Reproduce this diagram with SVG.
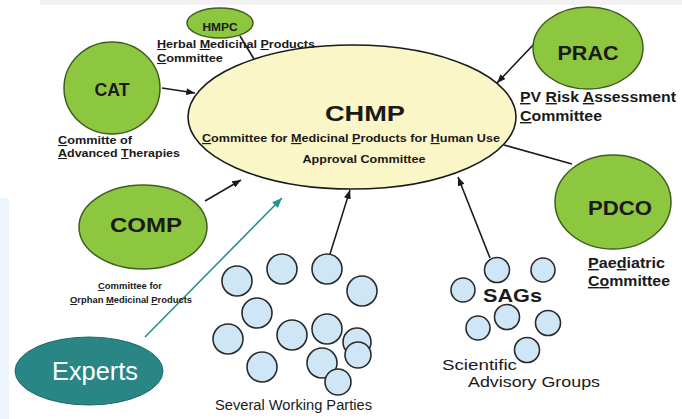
<svg xmlns="http://www.w3.org/2000/svg" width="682" height="419" viewBox="0 0 682 419">
<defs>
<style>
text{font-family:"Liberation Sans",Arial,sans-serif;fill:#1a1a1a}
.b{font-weight:bold}
.u{text-decoration:underline}
.green{fill:#8dc63f;stroke:#3f5e22;stroke-width:1.5}
.wp{fill:#cfe6f6;stroke:#2a2a2a;stroke-width:1.6}
.conn{stroke:#1a1a1a;stroke-width:1.6;fill:none}
</style>
<marker id="ah" viewBox="0 0 10 8" refX="10" refY="4" markerWidth="9" markerHeight="7" markerUnits="userSpaceOnUse" orient="auto">
<path d="M0,0 L10,4 L0,8 z" fill="#1a1a1a"/>
</marker>
<marker id="aht" viewBox="0 0 10 8" refX="10" refY="4" markerWidth="10" markerHeight="8" markerUnits="userSpaceOnUse" orient="auto">
<path d="M0,0 L10,4 L0,8 z" fill="#2a8f8f"/>
</marker>
</defs>
<rect width="682" height="419" fill="#ffffff"/>
<rect x="40" y="0" width="642" height="5" fill="#f2f2f2"/>
<rect x="0" y="198" width="9" height="221" fill="#eef4fb"/>

<g id="connectors">
<line class="conn" x1="240" y1="36" x2="257" y2="64"/>
<line class="conn" x1="162" y1="88" x2="195" y2="93" marker-end="url(#ah)"/>
<line class="conn" x1="205" y1="201" x2="241" y2="180" marker-end="url(#ah)"/>
<line class="conn" x1="534" y1="44" x2="497" y2="83" marker-end="url(#ah)"/>
<line class="conn" x1="504" y1="145" x2="572" y2="164"/>
<line class="conn" x1="330" y1="254" x2="350" y2="190" marker-end="url(#ah)"/>
<line class="conn" x1="490" y1="258" x2="458" y2="177" marker-end="url(#ah)"/>
<line x1="145" y1="337" x2="282" y2="198" stroke="#2a8f8f" stroke-width="1.6" marker-end="url(#aht)"/>
</g>

<g id="chmp">
<ellipse cx="352" cy="117" rx="164" ry="72" fill="#fbf6c8" stroke="#1a1a1a" stroke-width="1.6"/>
<text x="365" y="121" class="b" font-size="22" text-anchor="middle" textLength="80" lengthAdjust="spacingAndGlyphs">CHMP</text>
<text x="202" y="142" class="b" font-size="11.5" textLength="298" lengthAdjust="spacingAndGlyphs"><tspan class="u">C</tspan>ommittee for <tspan class="u">M</tspan>edicinal <tspan class="u">P</tspan>roducts for <tspan class="u">H</tspan>uman Use</text>
<text x="364" y="163" class="b" font-size="11.5" text-anchor="middle" textLength="123" lengthAdjust="spacingAndGlyphs">Approval Committee</text>
</g>

<g id="hmpc">
<ellipse class="green" cx="220" cy="23" rx="33" ry="15"/>
<text x="220" y="31" class="b" font-size="10.5" text-anchor="middle" textLength="35" lengthAdjust="spacingAndGlyphs">HMPC</text>
<text x="157" y="48" class="b" font-size="10.5" textLength="158" lengthAdjust="spacingAndGlyphs"><tspan class="u">H</tspan>erbal <tspan class="u">M</tspan>edicinal <tspan class="u">P</tspan>roducts</text>
<text x="157" y="62" class="b" font-size="10.5" textLength="66" lengthAdjust="spacingAndGlyphs"><tspan class="u">C</tspan>ommittee</text>
</g>

<g id="cat">
<ellipse class="green" cx="112" cy="88" rx="48" ry="46"/>
<text x="112" y="96" class="b" font-size="19" text-anchor="middle" textLength="35" lengthAdjust="spacingAndGlyphs">CAT</text>
<text x="58" y="144" class="b" font-size="10.5" textLength="74" lengthAdjust="spacingAndGlyphs"><tspan class="u">C</tspan>ommitte of</text>
<text x="58" y="157" class="b" font-size="10.5" textLength="122" lengthAdjust="spacingAndGlyphs"><tspan class="u">A</tspan>dvanced <tspan class="u">T</tspan>herapies</text>
</g>

<g id="comp">
<ellipse class="green" cx="143" cy="227" rx="64" ry="42"/>
<text x="146" y="232" class="b" font-size="20" text-anchor="middle" textLength="72" lengthAdjust="spacingAndGlyphs">COMP</text>
<text x="98" y="289" class="b" font-size="9.5" textLength="64" lengthAdjust="spacingAndGlyphs"><tspan class="u">C</tspan>ommittee for</text>
<text x="70" y="303" class="b" font-size="9.5" textLength="122" lengthAdjust="spacingAndGlyphs"><tspan class="u">O</tspan>rphan <tspan class="u">M</tspan>edicinal <tspan class="u">P</tspan>roducts</text>
</g>

<g id="prac">
<ellipse class="green" cx="588" cy="48" rx="55" ry="41"/>
<text x="588" y="60" class="b" font-size="21" text-anchor="middle" textLength="61" lengthAdjust="spacingAndGlyphs">PRAC</text>
<text x="520" y="102" class="b" font-size="14" textLength="156" lengthAdjust="spacingAndGlyphs"><tspan class="u">P</tspan>V <tspan class="u">R</tspan>isk <tspan class="u">A</tspan>ssessment</text>
<text x="520" y="121" class="b" font-size="14" textLength="82" lengthAdjust="spacingAndGlyphs"><tspan class="u">C</tspan>ommittee</text>
</g>

<g id="pdco">
<ellipse class="green" cx="613" cy="202" rx="58" ry="47"/>
<text x="620" y="215" class="b" font-size="21" text-anchor="middle" textLength="64" lengthAdjust="spacingAndGlyphs">PDCO</text>
<text x="588" y="268" class="b" font-size="14" textLength="77" lengthAdjust="spacingAndGlyphs"><tspan class="u">P</tspan>ae<tspan class="u">d</tspan>iatric</text>
<text x="588" y="286" class="b" font-size="14" textLength="82" lengthAdjust="spacingAndGlyphs"><tspan class="u">C</tspan><tspan class="u">o</tspan>mmittee</text>
</g>

<g id="experts">
<ellipse cx="89" cy="371" rx="74" ry="34" fill="#2a8585" stroke="#1f6b6b" stroke-width="1"/>
<text x="95" y="380" font-size="25" text-anchor="middle" style="fill:#ffffff" textLength="86" lengthAdjust="spacingAndGlyphs">Experts</text>
</g>

<g id="working-parties">
<circle class="wp" cx="237" cy="281" r="15"/>
<circle class="wp" cx="282" cy="269" r="15"/>
<circle class="wp" cx="327" cy="269" r="15"/>
<circle class="wp" cx="362" cy="291" r="15"/>
<circle class="wp" cx="257" cy="313" r="15"/>
<circle class="wp" cx="228" cy="339" r="15"/>
<circle class="wp" cx="292" cy="335" r="15"/>
<circle class="wp" cx="327" cy="329" r="15"/>
<circle class="wp" cx="357" cy="342" r="14"/>
<circle class="wp" cx="358" cy="355" r="13"/>
<circle class="wp" cx="262" cy="367" r="15"/>
<circle class="wp" cx="322" cy="363" r="15"/>
<circle class="wp" cx="338" cy="382" r="13"/>
<text x="215" y="410" font-size="14" textLength="157" lengthAdjust="spacingAndGlyphs">Several Working Parties</text>
</g>

<g id="sags">
<circle class="wp" cx="497" cy="270" r="12.5"/>
<circle class="wp" cx="543" cy="270" r="12"/>
<circle class="wp" cx="463" cy="290" r="12"/>
<circle class="wp" cx="507" cy="317" r="12.5"/>
<circle class="wp" cx="478" cy="328" r="12"/>
<circle class="wp" cx="548" cy="323" r="12.5"/>
<circle class="wp" cx="527" cy="350" r="12.5"/>
<text x="483" y="302" class="b" font-size="19" textLength="59" lengthAdjust="spacingAndGlyphs">SAGs</text>
<text x="442" y="370" font-size="15" textLength="75" lengthAdjust="spacingAndGlyphs">Scientific</text>
<text x="468" y="387" font-size="15" textLength="132" lengthAdjust="spacingAndGlyphs">Advisory Groups</text>
</g>
</svg>
